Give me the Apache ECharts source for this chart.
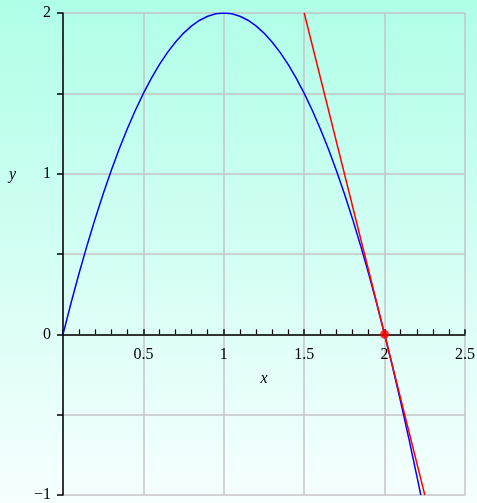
<!DOCTYPE html>
<html>
<head>
<meta charset="utf-8">
<script src="https://cdn.jsdelivr.net/npm/echarts@6/dist/echarts.min.js"></script>
<style>html,body{margin:0;padding:0;}#c{width:477px;height:503px;}</style>
</head>
<body>
<div id="c"></div>
<script>
const curveX = [0,0.05,0.1,0.15,0.2,0.25,0.3,0.35,0.4,0.45,0.5,0.55,0.6,0.65,0.7,0.75,0.8,0.85,0.9,0.95,1.0,
  1.05,1.1,1.15,1.2,1.25,1.3,1.35,1.4,1.45,1.5,1.55,1.6,1.65,1.7,1.75,1.8,1.85,1.9,1.95,2.0,2.05,2.1,2.15,2.2,2.225];
const curveY = [0,0.195,0.38,0.555,0.72,0.875,1.02,1.155,1.28,1.395,1.5,1.595,1.68,1.755,1.82,1.875,1.92,1.955,1.98,1.995,2,
  1.995,1.98,1.955,1.92,1.875,1.82,1.755,1.68,1.595,1.5,1.395,1.28,1.155,1.02,0.875,0.72,0.555,0.38,0.195,0,-0.205,-0.42,-0.645,-0.88,-1.0];
// Tangent line (red)
const tangentX = [1.5, 2.25];
const tangentY = [2, -1];
// Point of tangency
const pointX = [2];
const pointY = [0];
// Tick labels
const xTickLabels = ['0.5','1','1.5','2','2.5'];
const yTickLabels = ['\u22121','0','1','2'];

const zip = (a,b) => a.map((v,i)=>[v,b[i]]);
const font = 'Liberation Serif';
const W = 477, H = 503, gl = 63, gr = 12, gt = 13, gb = 8;
const yMin = -1, yMax = 2;
const plotH = H - gt - gb;
// offset of the x axis so it sits on y = 0
const zeroOffset = -plotH * (0 - yMin) / (yMax - yMin);

const chart = echarts.init(document.getElementById('c'));
chart.setOption({
  animation: false,
  backgroundColor: new echarts.graphic.LinearGradient(0,0,0,1,[
    {offset:0,color:'#affee8'},{offset:1,color:'#f6fffe'}]),
  grid: {left:gl, right:gr, top:gt, bottom:gb, containLabel:false, outerBoundsMode:'none'},
  xAxis: {
    type:'value', min:0, max:2.5, interval:0.5, position:'bottom', offset: zeroOffset,
    name:'x', nameLocation:'middle', nameGap:36,
    nameTextStyle:{fontFamily:font, fontStyle:'italic', fontSize:16, color:'#000'},
    axisLine:{onZero:false, lineStyle:{color:'#000', width:1.5}},
    axisTick:{show:true, inside:true, length:5, lineStyle:{color:'#000', width:1.5}},
    minorTick:{show:true, splitNumber:5, length:5, lineStyle:{color:'#000', width:1.2}},
    axisLabel:{margin:12, fontFamily:font, fontSize:16, color:'#000',
      formatter: v => { const s = String(+v.toFixed(2)); return xTickLabels.indexOf(s) >= 0 ? s : ''; }},
    splitLine:{show:true, lineStyle:{color:'#c4c4c4', width:1.5}}
  },
  yAxis: {
    type:'value', min:yMin, max:yMax, interval:0.5,
    axisLine:{show:true, onZero:false, lineStyle:{color:'#000', width:1.5}},
    axisTick:{show:true, inside:false, length:6, lineStyle:{color:'#000', width:1.5}},
    axisLabel:{margin:12, fontFamily:font, fontSize:16, color:'#000',
      formatter: v => { const s = v < 0 ? '\u2212' + Math.abs(v) : String(v); return yTickLabels.indexOf(s) >= 0 ? s : ''; }},
    splitLine:{show:true, lineStyle:{color:'#c4c4c4', width:1.5}}
  },
  graphic: [
    {type:'text', left:9, top:167, style:{text:'y', font:'italic 16px "Liberation Serif"', fill:'#000'}}
  ],
  series: [
    {type:'line', data: zip(curveX, curveY), showSymbol:false, smooth:false,
     lineStyle:{color:'#0000ff', width:1.5}, z:3},
    {type:'line', data: zip(tangentX, tangentY), showSymbol:false,
     lineStyle:{color:'#ff0000', width:1.5}, z:4},
    {type:'scatter', data: zip(pointX, pointY), symbol:'circle', symbolSize:9,
     itemStyle:{color:'#ff0000'}, z:5}
  ]
});
</script>
</body>
</html>
